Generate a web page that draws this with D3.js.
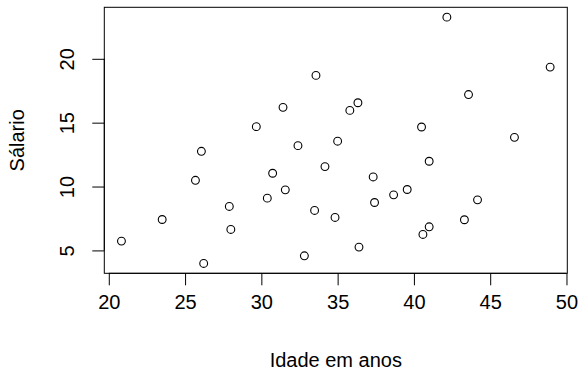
<!DOCTYPE html>
<html>
<head>
<meta charset="utf-8">
<script src="https://cdn.jsdelivr.net/npm/d3@7"></script>
<style>
  body { margin: 0; background: #fff; }
  svg text { font-family: "Liberation Sans", Arial, sans-serif; fill: #000; }
</style>
</head>
<body>
<div id="container"></div>
<script>
// Data
var idade = [20.83, 23.5, 25.68, 26.07, 26.22, 27.9, 28.0, 29.67, 30.39, 30.74,
             31.42, 31.57, 32.4, 32.82, 33.49, 33.58, 34.17, 34.83, 35.0, 35.8,
             36.33, 36.4, 37.33, 37.42, 38.67, 39.56, 40.5, 40.59, 41.0, 41.0,
             42.16, 43.31, 43.58, 44.17, 46.59, 48.93];
var salario = [5.73, 7.42, 10.49, 12.76, 3.98, 8.44, 6.64, 14.69, 9.09, 11.04,
               16.2, 9.74, 13.2, 4.58, 8.13, 18.7, 11.56, 7.58, 13.55, 15.96,
               16.56, 5.26, 10.75, 8.75, 9.35, 9.77, 14.66, 6.25, 6.85, 11.98,
               23.26, 7.40, 17.2, 8.96, 13.85, 19.35];
var xTicks = [20, 25, 30, 35, 40, 45, 50];
var yTicks = [5, 10, 15, 20];
var xTitle = "Idade em anos";
var yTitle = "Sálario";

// 1. Margins (plot box like R's default)
var W = 580, H = 372;
var margin = {top: 7.3, right: 12.7, bottom: 98.7, left: 104.3},
    width = W - margin.left - margin.right,
    height = H - margin.top - margin.bottom;

var svg = d3.select("#container")
  .append("svg")
    .attr("width", W)
    .attr("height", H);

var g = svg.append("g")
    .attr("transform", "translate(" + margin.left + "," + margin.top + ")");

// R style 4% padding around data range
function pad(ext) {
    var r = ext[1] - ext[0];
    return [ext[0] - 0.04 * r, ext[1] + 0.04 * r];
}

var x = d3.scaleLinear().domain(pad(d3.extent(idade))).range([0, width]);
var y = d3.scaleLinear().domain(pad(d3.extent(salario))).range([height, 0]);

// box
g.append("rect")
    .attr("x", 0).attr("y", 0)
    .attr("width", width).attr("height", height)
    .attr("fill", "none")
    .attr("stroke", "#000")
    .attr("stroke-width", 1);

// x axis
var xAxis = g.append("g")
    .attr("transform", "translate(0," + height + ")")
    .call(d3.axisBottom(x).tickValues(xTicks).tickSize(12).tickPadding(10).tickSizeOuter(0));
xAxis.select(".domain").attr("d", "M" + x(xTicks[0]) + ",0H" + x(xTicks[xTicks.length - 1]));
xAxis.selectAll("text").style("font-size", "20px").attr("fill", "#000");
xAxis.selectAll("line").attr("stroke", "#000");

// y axis
var yAxis = g.append("g")
    .call(d3.axisLeft(y).tickValues(yTicks).tickSize(12).tickSizeOuter(0));
yAxis.select(".domain").attr("d", "M0," + y(yTicks[0]) + "V" + y(yTicks[yTicks.length - 1]));
yAxis.selectAll("line").attr("stroke", "#000");
yAxis.selectAll("text")
    .attr("x", null).attr("dy", null)
    .attr("text-anchor", "middle")
    .attr("transform", "translate(-30.5,0) rotate(-90)")
    .style("font-size", "20px")
    .attr("fill", "#000");

// points
g.selectAll("circle.pt")
    .data(idade)
    .enter().append("circle")
    .attr("class", "pt")
    .attr("cx", function(d) { return x(d); })
    .attr("cy", function(d, i) { return y(salario[i]); })
    .attr("r", 3.9)
    .attr("fill", "none")
    .attr("stroke", "#000")
    .attr("stroke-width", 1.1);

// axis titles
svg.append("text")
    .attr("x", margin.left + width / 2)
    .attr("y", 366.5)
    .attr("text-anchor", "middle")
    .style("font-size", "20px")
    .text(xTitle);

svg.append("text")
    .attr("transform", "translate(24," + (margin.top + height / 2) + ") rotate(-90)")
    .attr("text-anchor", "middle")
    .style("font-size", "20px")
    .text(yTitle);
</script>
</body>
</html>
